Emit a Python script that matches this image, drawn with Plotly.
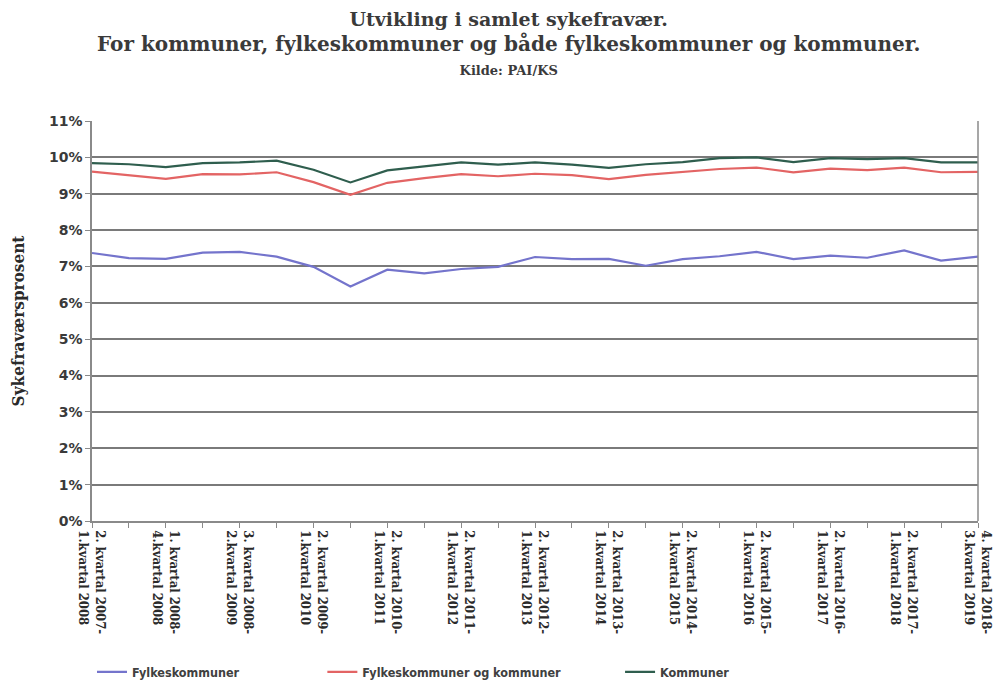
import plotly.graph_objects as go

# Categories (rolling 4-quarter periods); every other one is labelled on the axis
categories = [
    "2. kvartal 2007-<br>1.kvartal 2008",
    "3. kvartal 2007-<br>2.kvartal 2008",
    "1. kvartal 2008-<br>4.kvartal 2008",
    "2. kvartal 2008-<br>1.kvartal 2009",
    "3. kvartal 2008-<br>2.kvartal 2009",
    "4. kvartal 2008-<br>3.kvartal 2009",
    "2. kvartal 2009-<br>1.kvartal 2010",
    "4. kvartal 2009-<br>3.kvartal 2010",
    "2. kvartal 2010-<br>1.kvartal 2011",
    "4. kvartal 2010-<br>3.kvartal 2011",
    "2. kvartal 2011-<br>1.kvartal 2012",
    "4. kvartal 2011-<br>3.kvartal 2012",
    "2. kvartal 2012-<br>1.kvartal 2013",
    "4. kvartal 2012-<br>3.kvartal 2013",
    "2. kvartal 2013-<br>1.kvartal 2014",
    "4. kvartal 2013-<br>3.kvartal 2014",
    "2. kvartal 2014-<br>1.kvartal 2015",
    "4. kvartal 2014-<br>3.kvartal 2015",
    "2. kvartal 2015-<br>1.kvartal 2016",
    "4. kvartal 2015-<br>3.kvartal 2016",
    "2. kvartal 2016-<br>1.kvartal 2017",
    "4. kvartal 2016-<br>3.kvartal 2017",
    "2. kvartal 2017-<br>1.kvartal 2018",
    "4. kvartal 2017-<br>3.kvartal 2018",
    "4. kvartal 2018-<br>3.kvartal 2019",
]

fylkeskommuner = [7.37, 7.23, 7.21, 7.38, 7.40, 7.27, 6.99, 6.45, 6.91, 6.81,
                  6.93, 6.99, 7.26, 7.20, 7.21, 7.02, 7.20, 7.28, 7.40, 7.20,
                  7.30, 7.24, 7.44, 7.16, 7.27]
fylk_og_kommuner = [9.61, 9.52, 9.41, 9.54, 9.53, 9.59, 9.32, 8.97, 9.30, 9.43,
                    9.54, 9.48, 9.55, 9.51, 9.40, 9.52, 9.61, 9.68, 9.72, 9.59,
                    9.69, 9.65, 9.72, 9.59, 9.60]
kommuner = [9.84, 9.81, 9.73, 9.84, 9.86, 9.91, 9.66, 9.31, 9.64, 9.74,
            9.86, 9.80, 9.86, 9.80, 9.71, 9.81, 9.87, 9.98, 10.00, 9.87,
            9.98, 9.95, 9.98, 9.86, 9.86]

series_names = ["Fylkeskommuner", "Fylkeskommuner og kommuner", "Kommuner"]
colors = ["#7474cc", "#e36464", "#2f5e4e"]

title_lines = ["Utvikling i samlet sykefravær.",
               "For kommuner, fylkeskommuner og både fylkeskommuner og kommuner.",
               "Kilde: PAI/KS"]

tick_text = [c if i % 2 == 0 else "" for i, c in enumerate(categories)]

fig = go.Figure()
for name, vals, col, lg in zip(series_names,
                               [fylkeskommuner, fylk_og_kommuner, kommuner],
                               colors, ["legend", "legend2", "legend3"]):
    fig.add_trace(go.Scatter(x=categories, y=vals, mode="lines", name=name,
                             line=dict(color=col, width=2.2), legend=lg,
                             showlegend=True))

legend_common = dict(orientation="h", yanchor="middle", y=-0.378, xanchor="left",
                     font=dict(family="DejaVu Sans Condensed", size=12.5, color="#404040", weight="bold"),
                     bgcolor="rgba(0,0,0,0)", itemwidth=30)

title_text = (title_lines[0] + "<br><span style='font-size:20px'>" + title_lines[1]
              + "</span><br><span style='font-size:13px'>" + title_lines[2] + "</span>")

fig.update_layout(
    width=1004, height=681,
    paper_bgcolor="white", plot_bgcolor="white",
    showlegend=True,
    margin=dict(l=84, r=34, t=113, b=168, autoexpand=False),
    legend=dict(legend_common, x=0.0),
    legend2=dict(legend_common, x=0.26),
    legend3=dict(legend_common, x=0.596),
    xaxis=dict(
        type="category",
        tickmode="array", tickvals=categories, ticktext=tick_text,
        tickangle=90,
        tickfont=dict(family="DejaVu Serif Condensed", size=13, color="#2a2a2a", weight="bold"),
        range=[0, len(categories) - 1],
        showgrid=False,
        showline=True, linecolor="#8a8a8a", linewidth=1.5,
        ticks="outside", ticklen=5, tickcolor="#8a8a8a",
        automargin=False,
    ),
    yaxis=dict(
        range=[0, 11], dtick=1, ticksuffix="%",
        tickfont=dict(family="DejaVu Sans", size=14, color="#3a3a3a", weight="bold"),
        showgrid=True, gridcolor="#7a7a7a", gridwidth=1.5,
        showline=True, linecolor="#8a8a8a", linewidth=1.5,
        ticks="outside", ticklen=5, tickcolor="#8a8a8a",
        title=dict(text="Sykefraværsprosent",
                   font=dict(family="DejaVu Serif Condensed", size=17, color="#2a2a2a", weight="bold"),
                   standoff=20),
        zeroline=False,
        automargin=False,
    ),
)

fig.add_annotation(text=title_text, xref="paper", yref="paper",
                   x=0.47, y=1 + (121 - 6) / 400.0,
                   xanchor="center", yanchor="top", showarrow=False, align="center",
                   font=dict(family="DejaVu Serif", size=19, color="#3a3a3a", weight="bold"))

# right border of plot area
fig.add_shape(type="line", xref="paper", yref="paper", x0=1, x1=1, y0=0, y1=1,
              line=dict(color="#8a8a8a", width=1.5))

fig.write_html("out.html")
